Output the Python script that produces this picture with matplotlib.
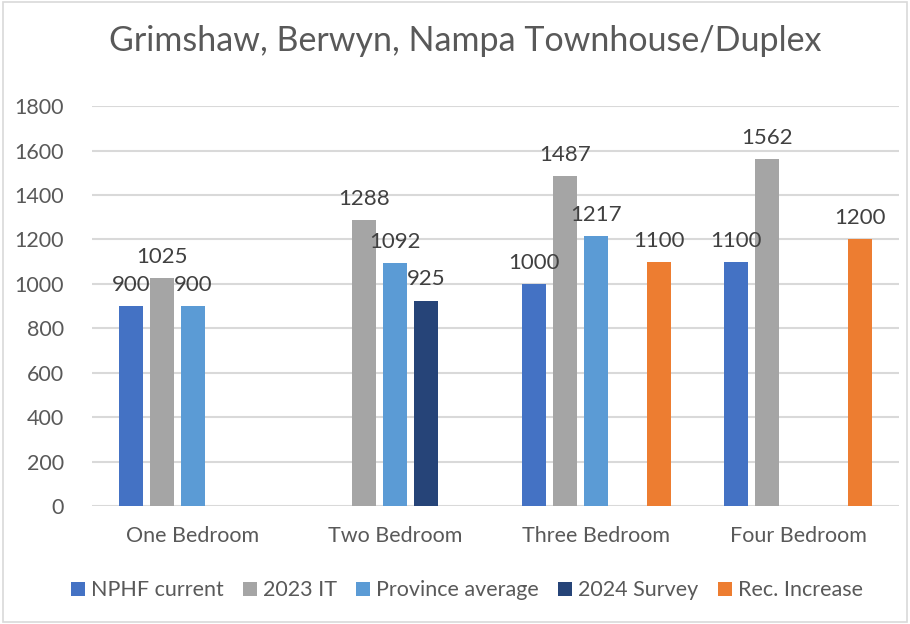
import matplotlib.pyplot as plt
import numpy as np
from matplotlib.patches import Rectangle

categories = ["One Bedroom", "Two Bedroom", "Three Bedroom", "Four Bedroom"]
series_names = ["NPHF current", "2023 IT", "Province average", "2024 Survey", "Rec. Increase"]
nphf_current = [900, np.nan, 1000, 1100]
it_2023 = [1025, 1288, 1487, 1562]
province_average = [900, 1092, 1217, np.nan]
survey_2024 = [np.nan, 925, np.nan, np.nan]
rec_increase = [np.nan, np.nan, 1100, 1200]
yticks = [0, 200, 400, 600, 800, 1000, 1200, 1400, 1600, 1800]

colors = ["#4472C4", "#A5A5A5", "#5B9BD5", "#264478", "#ED7D31"]
text_color = "#595959"
label_color = "#404040"

plt.rcParams["font.family"] = ["Lato", "DejaVu Sans"]

fig = plt.figure(figsize=(9.1, 6.24), dpi=100)
ax = fig.add_axes([0.1011, 0.189, 0.887, 0.641])

x = np.arange(len(categories))
step = 0.154
width = 0.119
all_series = [nphf_current, it_2023, province_average, survey_2024, rec_increase]

for i, (name, values, color) in enumerate(zip(series_names, all_series, colors)):
    pos = x + (i - 2) * step
    vals = np.array(values, dtype=float)
    ax.bar(pos, np.nan_to_num(vals), width, color=color, label=name, zorder=3)
    for px, v in zip(pos, vals):
        if np.isnan(v):
            continue
        ax.annotate(f"{v:.0f}", (px, v), xytext=(0, 8), textcoords="offset points",
                    ha="center", va="bottom", fontsize=16, color=label_color, zorder=4)

ax.set_xlim(-0.5, 3.5)
ax.set_ylim(0, 1800)
ax.set_yticks(yticks)
ax.set_xticks(x)
ax.set_xticklabels(categories)
ax.tick_params(axis="both", length=0, labelsize=15.5, labelcolor=text_color)
ax.tick_params(axis="x", pad=14)
ax.tick_params(axis="y", pad=20)
ax.grid(axis="y", color="#D9D9D9", linewidth=1.5, zorder=0)
for side in ["top", "right", "left", "bottom"]:
    ax.spines[side].set_visible(False)

fig.suptitle("Grimshaw, Berwyn, Nampa Townhouse/Duplex", x=0.511, y=0.96,
             fontsize=24.5, color=text_color)

fig.legend(loc="center", bbox_to_anchor=(0.513, 0.054), ncol=5, frameon=False,
           fontsize=15.5, labelcolor=text_color, handlelength=0.65, handleheight=0.65,
           handletextpad=0.28, columnspacing=0.9)

fig.patches.append(Rectangle((0.003, 0.003), 0.994, 0.994, transform=fig.transFigure,
                             fill=False, edgecolor="#D9D9D9", linewidth=1.2))

fig.savefig("out.png", dpi=100)
